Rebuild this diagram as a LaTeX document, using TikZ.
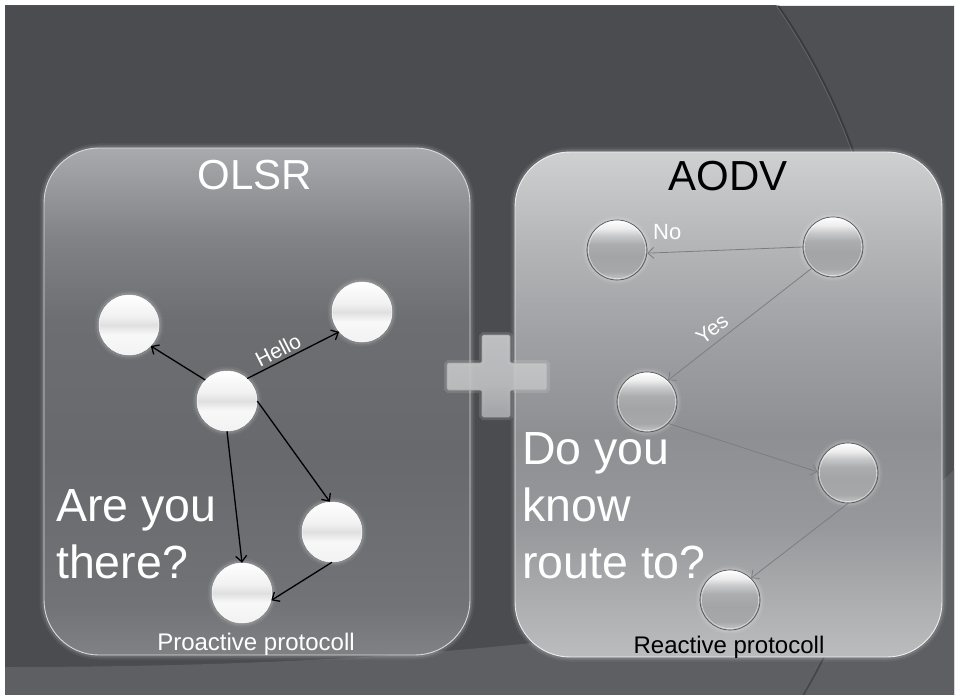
\documentclass[tikz,border=0pt]{standalone}
\usepackage{fontspec}
\setmainfont{Liberation Sans}
\usetikzlibrary{arrows.meta}

% palette
\definecolor{bgdark}{HTML}{4B4C50}
\definecolor{bgout}{HTML}{4F5054}
\definecolor{bglight}{HTML}{5E5F63}
\definecolor{arcline}{HTML}{626367}
% left panel
\definecolor{olA}{HTML}{808184}
\definecolor{olB}{HTML}{727376}
\definecolor{olC}{HTML}{68696C}
\definecolor{olD}{HTML}{6D6E71}
\definecolor{olE}{HTML}{818285}
\definecolor{olF}{HTML}{A9AAAD}
% right panel
\definecolor{adA}{HTML}{BBBCBE}
\definecolor{adB}{HTML}{B1B2B4}
\definecolor{adC}{HTML}{97989B}
\definecolor{adD}{HTML}{8E8F92}
\definecolor{adE}{HTML}{A0A1A4}
\definecolor{adF}{HTML}{B5B6B8}
\definecolor{adG}{HTML}{CFD0D2}
% white nodes
\definecolor{wnA}{HTML}{F2F2F2}
\definecolor{wnB}{HTML}{F8F8F8}
\definecolor{wnC}{HTML}{E0E0E0}
\definecolor{wnD}{HTML}{F1F1F1}
\definecolor{wnE}{HTML}{FFFFFF}
% grey nodes
\definecolor{gnA}{HTML}{C6C7C9}
\definecolor{gnB}{HTML}{A7A8AA}
\definecolor{gnC}{HTML}{A3A4A6}
\definecolor{gnD}{HTML}{ACADAF}
\definecolor{gnE}{HTML}{C8C9CB}
\definecolor{gnF}{HTML}{EDEDEE}
\definecolor{gnG}{HTML}{FFFFFF}
\definecolor{gnedge}{HTML}{55565A}
% plus sign
\definecolor{plA}{HTML}{ACADB0}
\definecolor{plB}{HTML}{C2C3C5}
\definecolor{plC}{HTML}{CBCCCE}
\definecolor{aodvline}{HTML}{7C7D80}

\pgfdeclareverticalshading{olsrshade}{100bp}{color(0bp)=(olA); color(25bp)=(olA); color(30bp)=(olB); color(45bp)=(olC); color(58bp)=(olD); color(66bp)=(olE); color(75bp)=(olF); color(100bp)=(olF)}
\pgfdeclareverticalshading{aodvshade}{100bp}{color(0bp)=(adA); color(25bp)=(adA); color(29bp)=(adB); color(38bp)=(adC); color(47bp)=(adD); color(57bp)=(adE); color(66bp)=(adF); color(75bp)=(adG); color(100bp)=(adG)}
\pgfdeclareverticalshading{whiteball}{100bp}{color(0bp)=(wnA); color(25bp)=(wnA); color(42bp)=(wnB); color(50bp)=(wnC); color(57bp)=(wnD); color(75bp)=(wnE); color(100bp)=(wnE)}
\pgfdeclareverticalshading{greyball}{100bp}{color(0bp)=(gnA); color(25bp)=(gnA); color(32bp)=(gnB); color(45bp)=(gnC); color(55bp)=(gnD); color(62bp)=(gnE); color(68bp)=(gnF); color(75bp)=(gnG); color(100bp)=(gnG)}
\pgfdeclareverticalshading{plusshade}{100bp}{color(0bp)=(plA); color(25bp)=(plA); color(45bp)=(plB); color(75bp)=(plC); color(100bp)=(plC)}

\tikzset{
  glow/.style={preaction={draw=white, line width=9pt, opacity=0.06},
               preaction={draw=white, line width=5pt, opacity=0.12}},
  panel/.style={rounded corners=55pt, shade, glow},
  wball/.style={circle, minimum size=60pt, inner sep=0pt, shade, shading=whiteball,
                draw=white, line width=0.5pt, glow},
  gball/.style={circle, minimum size=60pt, inner sep=0pt, shade, shading=greyball,
                draw=gnedge, line width=0.7pt, glow},
  rim/.style={draw=white, opacity=0.55, line width=0.6pt},
  olsrarrow/.style={draw=black, line width=1.3pt, -{Straight Barb[length=6pt,width=11pt]}},
  aodvarrow/.style={draw=aodvline, line width=0.8pt, -{Straight Barb[length=6pt,width=11pt]}},
  title/.style={inner sep=0pt, anchor=base, font=\fontsize{42}{50}\selectfont},
  bigtext/.style={inner sep=0pt, anchor=base west, text=white, font=\fontsize{46.5}{56}\selectfont},
  foot/.style={inner sep=0pt, anchor=base, font=\fontsize{24}{29}\selectfont},
  lbl/.style={inner sep=0pt, text=white, font=\fontsize{21}{25}\selectfont},
}

\begin{document}
\begin{tikzpicture}[x=1pt, y=-1pt]
  % page and backdrop
  \fill[white] (0,0) rectangle (956,695);
  \useasboundingbox (0,0) rectangle (956,695);
  \begin{scope}
    \clip (5,6) rectangle (954,695);
    \fill[bgdark] (5,6) rectangle (954,695);
    \fill[bgout, even odd rule] (5,6) rectangle (954,695) (250,370) circle[radius=640pt];
    \fill[bglight] (5,667) .. controls (200,667) and (380,660) .. (560,640)
                   .. controls (720,622) and (860,560) .. (956,468)
                   -- (956,695) -- (5,695) -- cycle;
    \draw[black, opacity=0.25, line width=2pt] (250,370) circle[radius=641.5pt];
    \draw[arcline, line width=0.8pt] (250,370) circle[radius=640pt];
  \end{scope}

  % left panel
  \path[panel, shading=olsrshade, draw=white!72!gray, line width=0.9pt]
    (44,148) rectangle (470,655);
  % right panel
  \path[panel, shading=aodvshade, draw=white!88!gray, line width=0.9pt]
    (515,152) rectangle (942,657);

  % plus sign between the panels
  \path[shade, shading=plusshade, fill opacity=0.9, draw=gray!70, line width=0.6pt,
        rounded corners=1.5pt, preaction={draw=white, line width=6pt, opacity=0.12}]
    (482,335) -- (510,335) -- (510,363) -- (547,363) -- (547,390) -- (510,390)
    -- (510,417) -- (482,417) -- (482,390) -- (447,390) -- (447,363) -- (482,363) -- cycle;

  % titles and captions
  \node[title, text=white] (olsr) at (255,190) {OLSR};
  \node[title, text=black] (aodv) at (728,191) {AODV};
  \node[foot, text=white] (proactive) at (256,650) {Proactive protocoll};
  \node[foot, text=black] (reactive) at (729,653) {Reactive protocoll};

  % OLSR network
  \node[wball] (o1) at (129,325) {};
  \node[wball] (o2) at (362,312) {};
  \node[wball] (o3) at (227,401) {};
  \node[wball] (o4) at (332,532) {};
  \node[wball] (o5) at (242,593) {};

  \draw[olsrarrow] (o3.136) -- (o1.-44);
  \draw[olsrarrow] (o3.48) -- (o2.221);
  \draw[olsrarrow] (o3.south) -- (o5.north);
  \draw[olsrarrow] (o3.east) -- (o4.94);
  \draw[olsrarrow] (o4.south) -- (o5.-14);
  \node[lbl, rotate=27] (hello) at (278,350) {Hello};

  \node[bigtext] (are1) at (56,521) {Are you};
  \node[bigtext] (are2) at (56,578) {there?};

  % AODV network
  \node[gball] (a1) at (617,250) {};
  \node[gball] (a2) at (833,247) {};
  \node[gball] (a3) at (647,402) {};
  \node[gball] (a4) at (848,473) {};
  \node[gball] (a5) at (730,600) {};
  % inner highlight rims of the grey balls
  \foreach \b in {a1,a2,a3,a4,a5}
    \draw[rim] (\b.center) circle[radius=28.6pt];

  \draw[aodvarrow] (a2.west) -- (a1.-6);
  \draw[aodvarrow] (a2.225) -- (a3.46);
  \draw[aodvarrow] (a3.-45) -- (a4.178);
  \draw[aodvarrow] (a4.south) -- (a5.46);
  \node[lbl, font=\fontsize{22}{26}\selectfont, anchor=base west] (no) at (653,240) {No};
  \node[lbl, rotate=37.6] (yes) at (712,329) {Yes};

  \node[bigtext] (do1) at (522,464) {Do you};
  \node[bigtext] (do2) at (522,521) {know};
  \node[bigtext] (do3) at (522,578) {route to?};
\end{tikzpicture}
\end{document}
